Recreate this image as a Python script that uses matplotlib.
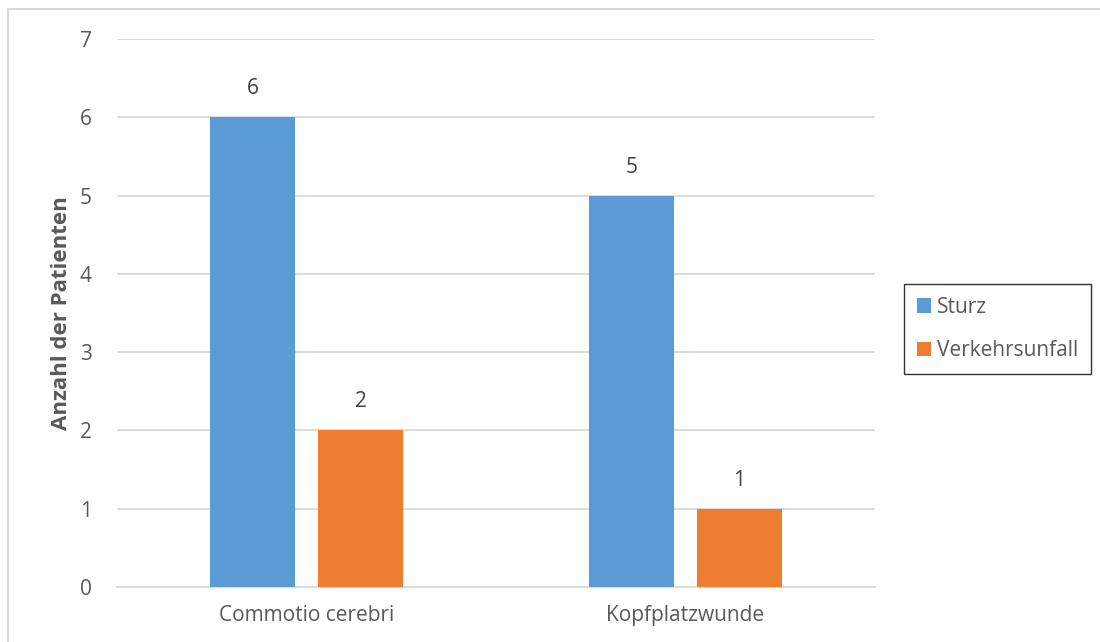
import matplotlib
matplotlib.use("Agg")
import matplotlib.pyplot as plt
from matplotlib.lines import Line2D
from matplotlib.patches import Patch
import numpy as np

categories = ["Commotio cerebri", "Kopfplatzwunde"]
series_names = ["Sturz", "Verkehrsunfall"]
sturz = [6, 5]
verkehrsunfall = [2, 1]
yticks = [0, 1, 2, 3, 4, 5, 6, 7]

colors = ["#5B9BD5", "#ED7D31"]
text_color = "#595959"
grid_color = "#D9D9D9"

plt.rcParams["font.family"] = ["Open Sans", "DejaVu Sans"]

fig = plt.figure(figsize=(11, 6.42), dpi=100)
ax = fig.add_axes([117 / 1100, 1 - 587 / 642, (875 - 117) / 1100, (587 - 39) / 642])

x = np.arange(len(categories))
width = 0.224
offset = 0.1425
for vals, name, col, off in zip([sturz, verkehrsunfall], series_names, colors, [-offset, offset]):
    bars = ax.bar(x + off, vals, width=width, color=col, label=name, zorder=3)
    for b, v in zip(bars, vals):
        ax.annotate(str(v), (b.get_x() + b.get_width() / 2, v), xytext=(0, 13),
                    textcoords="offset points", ha="center", va="bottom",
                    fontsize=15, color="#404040")

ax.set_xlim(-0.5, 1.5)
ax.set_ylim(0, 7)
ax.set_yticks(yticks)
ax.set_xticks(x)
ax.set_xticklabels(categories)
ax.tick_params(axis="both", length=0, labelsize=15, colors=text_color)
ax.tick_params(axis="y", pad=18)
ax.tick_params(axis="x", pad=13)
ax.yaxis.grid(True, color=grid_color, linewidth=1.3, zorder=0)
for s in ["top", "right", "left"]:
    ax.spines[s].set_visible(False)
ax.spines["bottom"].set_color(grid_color)
ax.spines["bottom"].set_linewidth(1.3)

ax.set_ylabel("Anzahl der Patienten", fontsize=16, fontweight="bold", color=text_color, labelpad=6)

handles = [Patch(facecolor=c, edgecolor="none") for c in colors]
leg = fig.legend(handles, series_names, loc="upper left",
                 bbox_to_anchor=(904 / 1100, 1 - 284 / 642), frameon=True,
                 fancybox=False, edgecolor="black", fontsize=15,
                 handlelength=0.7, handleheight=0.7, handletextpad=0.3,
                 labelspacing=1.1, borderpad=0.6, borderaxespad=0)
leg.get_frame().set_linewidth(1.0)
for t in leg.get_texts():
    t.set_color(text_color)

# outer chart border (top and left edges)
fig.add_artist(Line2D([8 / 1100, 1], [1 - 9 / 642, 1 - 9 / 642], transform=fig.transFigure,
                      color="#D9D9D9", linewidth=1.5))
fig.add_artist(Line2D([8 / 1100, 8 / 1100], [0, 1 - 9 / 642], transform=fig.transFigure,
                      color="#D9D9D9", linewidth=1.5))

fig.savefig("out.png", dpi=100, facecolor="white")
